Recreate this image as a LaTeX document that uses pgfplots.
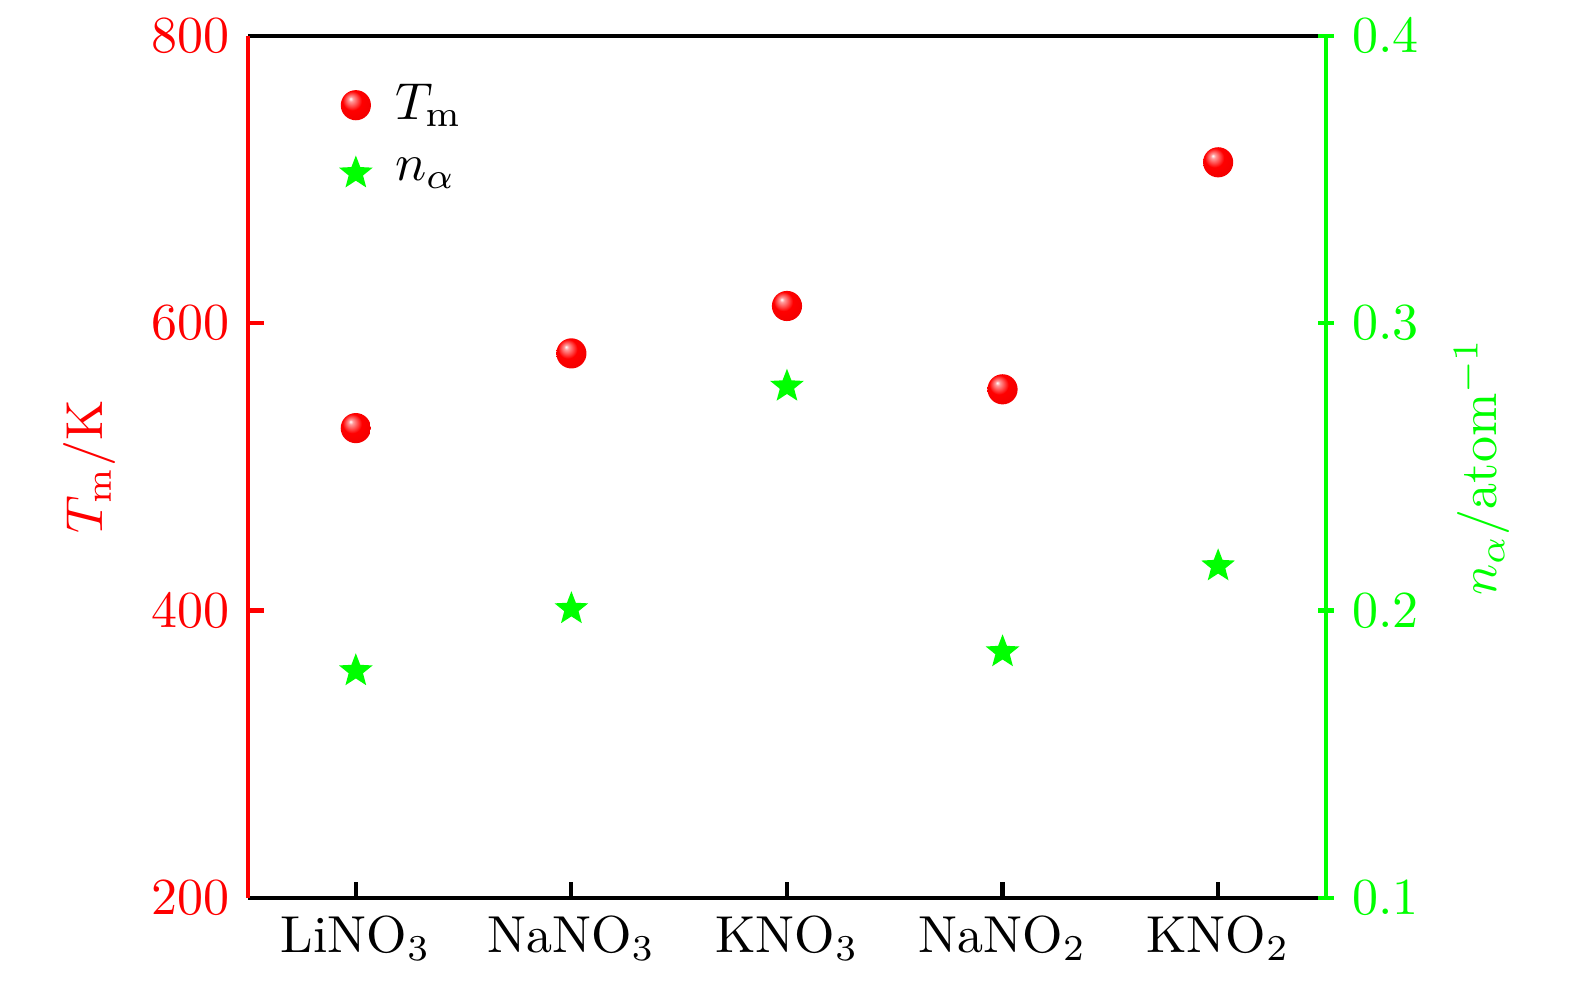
\documentclass[border=0pt]{standalone}
\usepackage{pgfplots}
\pgfplotsset{compat=1.18}
\pgfdeclareplotmark{fstar}{%
  \pgfpathmoveto{\pgfpointpolar{90}{3.4pt}}%
  \pgfpathlineto{\pgfpointpolar{126}{1.45pt}}%
  \pgfpathlineto{\pgfpointpolar{162}{3.4pt}}%
  \pgfpathlineto{\pgfpointpolar{198}{1.45pt}}%
  \pgfpathlineto{\pgfpointpolar{234}{3.4pt}}%
  \pgfpathlineto{\pgfpointpolar{270}{1.45pt}}%
  \pgfpathlineto{\pgfpointpolar{306}{3.4pt}}%
  \pgfpathlineto{\pgfpointpolar{342}{1.45pt}}%
  \pgfpathlineto{\pgfpointpolar{18}{3.4pt}}%
  \pgfpathlineto{\pgfpointpolar{54}{1.45pt}}%
  \pgfpathclose
  \pgfusepathqfill}
\pgfdeclareradialshading{rball}{\pgfqpoint{-9bp}{11bp}}{%
  color(0bp)=(white); color(4bp)=(white!60!red); color(9bp)=(white!35!red);
  color(16bp)=(red); color(40bp)=(red!92!black); color(50bp)=(red!80!black)}
\pgfdeclareplotmark{rball}{%
  \pgfpathcircle{\pgfpointorigin}{\pgfplotmarksize}%
  \pgfshadepath{rball}{0}%
  \pgfusepath{discard}}
\begin{document}
\begin{tikzpicture}
\pgfplotsset{
  common/.style={
    scale only axis, width=207.3pt, height=165.8pt,
    xmin=-0.5, xmax=4.5,
    tick align=inside, major tick length=3pt,
    axis line style={line width=0.8pt,-},
    every tick/.style={line width=0.8pt},
  },
  legend image code/.code={\draw[#1] plot coordinates {(0.3cm,0cm)};},
}
\begin{axis}[common, name=ax,
  ymin=200, ymax=800, ytick={200,400,600,800},
  xtick={0,1,2,3,4},
  xticklabels={LiNO$_3$,NaNO$_3$,KNO$_3$,NaNO$_2$,KNO$_2$},
  axis x line*=box, axis y line*=left,
  xtick pos=left,
  x axis line style={black,-},
  y axis line style={red,-},
  ytick style={red, line width=0.8pt},
  xtick style={black, line width=0.8pt},
  yticklabel style={red},
  ylabel={$T_\mathrm{m}$/K},
  ylabel style={red},
]
\addplot[only marks, mark=rball, mark size=2.9pt] coordinates {
(0,527) (1,579) (2,612) (3,554) (4,712)
};
\end{axis}
\begin{axis}[common,
  ymin=0.1, ymax=0.4, ytick={0.1,0.2,0.3,0.4},
  axis x line=none, axis y line=right,
  y axis line style={green,-},
  every outer y axis line/.append style={-},
  ytick style={green, line width=0.8pt},
  yticklabel style={green, /pgf/number format/.cd, fixed, fixed zerofill, precision=1},
  ylabel={$n_\alpha$/atom$^{-1}$},
  ylabel style={green},
  legend style={draw=none, fill=none, at={(0.069,0.97)}, anchor=north west, row sep=2pt, column sep=2.3pt},
  legend cell align=left,
]
\addlegendimage{only marks, mark=rball, mark size=2.9pt}
\addlegendentry{$T_\mathrm{m}$}
\addplot[only marks, mark=fstar, green] coordinates {
(0,0.179) (1,0.2006) (2,0.278) (3,0.1856) (4,0.2155)
};
\addlegendentry{$n_\alpha$}
\end{axis}
\pgfresetboundingbox
\path[use as bounding box] ([shift={(-47.7pt,-17.3pt)}]ax.south west) rectangle ([shift={(47.9pt,6.9pt)}]ax.north east);
\end{tikzpicture}
\end{document}
